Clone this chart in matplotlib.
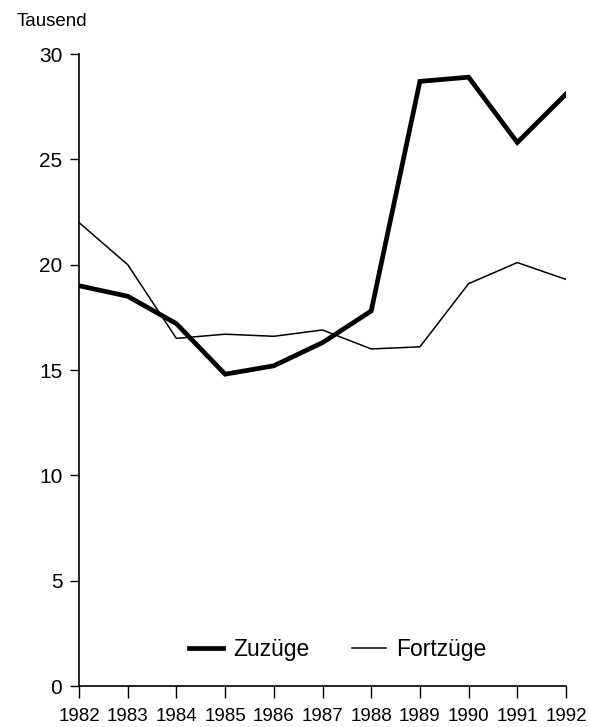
import matplotlib
matplotlib.use("Agg")
import matplotlib.pyplot as plt

# Werte in Tausend
jahre = [1982, 1983, 1984, 1985, 1986, 1987, 1988, 1989, 1990, 1991, 1992]
zuzuege = [19.0, 18.5, 17.2, 14.8, 15.2, 16.3, 17.8, 28.7, 28.9, 25.8, 28.1]
fortzuege = [22.0, 20.0, 16.5, 16.7, 16.6, 16.9, 16.0, 16.1, 19.1, 20.1, 19.3]
y_ticks = [0, 5, 10, 15, 20, 25, 30]

plt.rcParams['font.family'] = ['Liberation Sans', 'DejaVu Sans']

fig = plt.figure(figsize=(5.9, 7.27), dpi=100)
ax = fig.add_axes([79 / 590, 1 - 686 / 727, 487 / 590, 632 / 727])

ax.plot(jahre, zuzuege, color='black', lw=3.4, solid_joinstyle='miter', label='Zuzüge')
ax.plot(jahre, fortzuege, color='black', lw=1.1, label='Fortzüge')

ax.set_xlim(1982, 1992)
ax.set_ylim(0, 30)
ax.set_xticks(jahre)
ax.set_yticks(y_ticks)
ax.tick_params(axis='x', direction='out', length=8.5, width=1, labelsize=13.5, pad=7)
ax.tick_params(axis='y', direction='out', length=6.5, width=1, labelsize=15, pad=5.5)

for s in ['top', 'right']:
    ax.spines[s].set_visible(False)
for s in ['left', 'bottom']:
    ax.spines[s].set_linewidth(1.2)

fig.text(17 / 590, 1 - 22 / 727, 'Tausend', ha='left', va='center', fontsize=13.5)

ax.legend(loc='center', bbox_to_anchor=(0.531, 0.057), ncol=2, frameon=False,
          fontsize=16.5, handlelength=1.5, handletextpad=0.44, columnspacing=1.85)

fig.savefig('out.png', dpi=100)
